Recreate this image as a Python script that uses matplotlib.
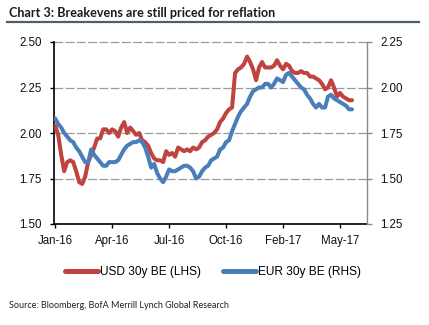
import numpy as np
import matplotlib
matplotlib.use("Agg")
import matplotlib.pyplot as plt
from matplotlib.lines import Line2D

# USD 30y breakeven (left axis) and EUR 30y breakeven (right axis), sampled every few trading days
usd_30y_be = [2.04, 1.99, 1.88, 1.79, 1.84, 1.85, 1.84, 1.79, 1.73, 1.72,
              1.76, 1.84, 1.88, 1.92, 1.97, 1.97, 2.02, 2.02, 2.00, 2.02,
              2.01, 1.98, 2.03, 2.06, 2.00, 2.03, 2.01, 1.99, 2.00, 1.96,
              1.95, 1.93, 1.89, 1.86, 1.85, 1.85, 1.84, 1.90, 1.88, 1.89,
              1.87, 1.92, 1.91, 1.90, 1.91, 1.90, 1.92, 1.91, 1.92, 1.95,
              1.96, 1.98, 1.99, 2.00, 2.02, 2.06, 2.08, 2.11, 2.13, 2.14,
              2.33, 2.35, 2.36, 2.38, 2.42, 2.39, 2.35, 2.29, 2.36, 2.39,
              2.36, 2.36, 2.36, 2.37, 2.40, 2.37, 2.35, 2.38, 2.37, 2.34,
              2.33, 2.33, 2.34, 2.33, 2.33, 2.31, 2.31, 2.30, 2.29, 2.27,
              2.24, 2.25, 2.29, 2.25, 2.20, 2.22, 2.20, 2.19, 2.18, 2.18]

eur_30y_be = [1.83, 1.80, 1.78, 1.75, 1.73, 1.71, 1.70, 1.67, 1.65, 1.62,
              1.59, 1.59, 1.66, 1.63, 1.61, 1.59, 1.57, 1.57, 1.59, 1.59,
              1.59, 1.60, 1.63, 1.66, 1.68, 1.69, 1.70, 1.70, 1.71, 1.70,
              1.67, 1.62, 1.56, 1.58, 1.53, 1.50, 1.48, 1.51, 1.55, 1.54,
              1.54, 1.55, 1.56, 1.57, 1.57, 1.56, 1.54, 1.50, 1.51, 1.54,
              1.56, 1.57, 1.60, 1.61, 1.62, 1.66, 1.67, 1.70, 1.71, 1.76,
              1.80, 1.84, 1.87, 1.89, 1.91, 1.95, 1.98, 1.99, 2.00, 2.00,
              2.02, 2.02, 2.00, 2.02, 2.05, 2.04, 2.03, 2.07, 2.08, 2.06,
              2.04, 2.02, 2.00, 1.99, 1.96, 1.94, 1.91, 1.89, 1.91, 1.89,
              1.89, 1.95, 1.96, 1.94, 1.93, 1.92, 1.91, 1.90, 1.88, 1.88]

date_labels = ["Jan-16", "Apr-16", "Jul-16", "Oct-16", "Feb-17", "May-17"]
left_ticks = [1.50, 1.75, 2.00, 2.25, 2.50]
right_ticks = [1.25, 1.50, 1.75, 2.00, 2.25]

series_names = ["USD 30y BE (LHS)", "EUR 30y BE (RHS)"]
RED = "#c0433f"
BLUE = "#4a7ebb"
TICK_FONT = "Liberation Sans"

W, H = 429, 325
fig = plt.figure(figsize=(W / 100, H / 100), dpi=100)
fig.patch.set_facecolor("white")

ax = fig.add_axes([54 / W, 1 - 224 / H, (367 - 54) / W, (224 - 42) / H])
ax2 = ax.twinx()

x_usd = np.arange(len(usd_30y_be))
x_eur = np.arange(len(eur_30y_be))
ax.plot(x_usd, usd_30y_be, color=RED, lw=2.9, solid_joinstyle="round",
        solid_capstyle="round", zorder=3)
ax2.plot(x_eur, eur_30y_be, color=BLUE, lw=2.9, solid_joinstyle="round",
         solid_capstyle="round", zorder=3)

ax.set_ylim(1.5, 2.5)
ax2.set_ylim(1.25, 2.25)
ax.set_xlim(-0.4, 104)

tick_step = 19
ax.set_xticks(np.arange(len(date_labels)) * tick_step)
ax.set_xticklabels(date_labels)
ax.set_yticks(left_ticks)
ax.set_yticklabels([f"{v:.2f}" for v in left_ticks])
ax2.set_yticks(right_ticks)
ax2.set_yticklabels([f"{v:.2f}" for v in right_ticks])

# dashed horizontal gridlines
for v in left_ticks[1:]:
    ax.axhline(v, color="#9a9a9a", lw=0.9, ls=(0, (7, 2)), zorder=1, clip_on=False)

for a in (ax, ax2):
    a.spines["top"].set_visible(False)
    for lab in a.get_xticklabels() + a.get_yticklabels():
        lab.set_fontfamily(TICK_FONT)
        lab.set_fontsize(8.3)
        lab.set_color("#111111")

ax.spines["left"].set_color("black")
ax.spines["bottom"].set_color("black")
ax.spines["left"].set_linewidth(1.2)
ax.spines["bottom"].set_linewidth(1.2)
ax.spines["right"].set_visible(False)
ax2.spines["left"].set_visible(False)
ax2.spines["bottom"].set_visible(False)
ax2.spines["right"].set_color("#8a8a8a")
ax2.spines["right"].set_linewidth(1.0)

ax.tick_params(axis="y", direction="out", length=3, width=1.0, pad=6)
ax.tick_params(axis="x", direction="out", length=3, width=1.0, pad=5)
ax2.tick_params(axis="y", direction="out", length=3.5, width=1.0, pad=6,
                color="#8a8a8a")

# title with rule beneath
fig.text(9 / W, 1 - 13 / H, "Chart 3: Breakevens are still priced for reflation",
         fontfamily="Lato", fontweight="bold", fontsize=9.1, color="#1b1b1b",
         ha="left", va="center")
fig.add_artist(Line2D([7 / W, 419 / W], [1 - 22 / H, 1 - 22 / H],
                      color="#4f5d6c", lw=1.6))

# legend
handles = [Line2D([0], [0], color=RED, lw=3.6, solid_capstyle="round"),
           Line2D([0], [0], color=BLUE, lw=3.6, solid_capstyle="round")]
fig.legend(handles, series_names, loc="center", bbox_to_anchor=(213 / W, 1 - 272 / H),
           ncol=2, frameon=False, handlelength=2.8, handletextpad=0.15,
           columnspacing=1.8, prop={"family": TICK_FONT, "size": 8.6})

fig.text(9 / W, 1 - 306 / H, "Source: Bloomberg, BofA Merrill Lynch Global Research",
         fontfamily="Lato", fontsize=6.45, color="#222222", ha="left", va="center")

fig.savefig("out.png", dpi=100, facecolor="white")
